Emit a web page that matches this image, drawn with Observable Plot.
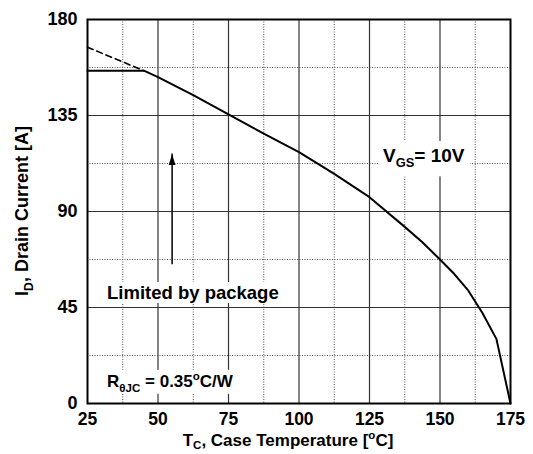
<!DOCTYPE html>
<html><head><meta charset="utf-8">
<script src="https://cdn.jsdelivr.net/npm/d3@7"></script>
<script src="https://cdn.jsdelivr.net/npm/@observablehq/plot@0.6"></script>
<style>
body{margin:0;background:#fff;}
svg{font-family:"Liberation Sans",Arial,sans-serif;}
</style>
</head><body><div id="chart"></div>
<script>
// Tick values
const xTicks = [25, 50, 75, 100, 125, 150, 175];
const yTicks = [0, 45, 90, 135, 180];
const xMinor = [37.5, 62.5, 87.5, 112.5, 137.5, 162.5];
const yMinor = [22.5, 67.5, 112.5, 157.5];

// Drain current limit curve (solid) – package limited then thermally limited
const tempSolid    = [25, 45, 50, 62.5, 75, 87.5, 100, 112.5, 125, 137.5, 143.75, 150, 155, 160, 165, 170, 175];
const currentSolid = [156, 156, 153, 144.5, 135.5, 126.5, 117.8, 107.6, 96.7, 82.8, 75.6, 67.5, 60.8, 53, 42.5, 30.3, 0];
// Silicon limit extension (dashed)
const tempDashed    = [25, 45];
const currentDashed = [167, 156];
// Arrow pointing to the package limit
const arrowTemp = [55];
const arrowFromCurrent = [65];
const arrowToCurrent = [117];

const solid = tempSolid.map((t, i) => ({t, i: currentSolid[i]}));
const dashed = tempDashed.map((t, i) => ({t, i: currentDashed[i]}));
const arrow = arrowTemp.map((t, k) => ({t, y1: arrowFromCurrent[k], y2: arrowToCurrent[k]}));

const arrowHead = {draw(ctx) { ctx.moveTo(0, 0); ctx.lineTo(-3.4, 11); ctx.lineTo(3.4, 11); ctx.closePath(); }};

const chart = Plot.plot({
  width: 533, height: 454,
  marginLeft: 87, marginRight: 23, marginTop: 19, marginBottom: 51,
  style: {fontFamily: "'Liberation Sans', Arial, sans-serif", background: "#fff", color: "#000"},
  x: {domain: [25, 175]},
  y: {domain: [0, 180]},
  marks: [
    Plot.ruleX(xMinor, {stroke: "#555", strokeWidth: 1, strokeDasharray: "1,1.5"}),
    Plot.ruleY(yMinor, {stroke: "#555", strokeWidth: 1, strokeDasharray: "1,1.5"}),
    Plot.ruleX(xTicks.slice(1, -1), {stroke: "#333", strokeWidth: 1.2}),
    Plot.ruleY(yTicks.slice(1, -1), {stroke: "#333", strokeWidth: 1.2}),
    Plot.line(dashed, {x: "t", y: "i", stroke: "#000", strokeWidth: 1.6, strokeDasharray: "6,4"}),
    Plot.line(solid, {x: "t", y: "i", stroke: "#000", strokeWidth: 2}),
    Plot.ruleX(arrow, {x: "t", y1: "y1", y2: "y2", stroke: "#000", strokeWidth: 1.5}),
    Plot.dot(arrow, {x: "t", y: "y2", symbol: arrowHead, fill: "#000", stroke: "none"}),
    Plot.frame({stroke: "#000", strokeWidth: 2}),
    Plot.axisX(xTicks, {tickSize: 0, tickPadding: 9, fontSize: 17.5, fontWeight: "bold", label: null}),
    Plot.axisY(yTicks, {tickSize: 0, tickPadding: 10, fontSize: 18, fontWeight: "bold", label: null})
  ]
});
document.getElementById("chart").appendChild(chart);

const svg = d3.select(chart);
const layer = svg.append("g");

function richText(x, y, parts, size, anchor, rotate, box, subShift = 0.28) {
  const g = layer.append("g");
  const t = g.append("text")
    .attr("x", x).attr("y", y)
    .attr("font-size", size).attr("font-weight", "bold")
    .attr("text-anchor", anchor).attr("fill", "#000");
  if (rotate) t.attr("transform", `rotate(-90 ${x} ${y})`);
  let cur = 0;
  for (const p of parts) {
    const target = p.sub ? size * subShift : p.sup ? -size * 0.42 : 0;
    const ts = t.append("tspan").text(p.t).attr("dy", target - cur);
    if (p.sub || p.sup) ts.attr("font-size", size * 0.68);
    cur = target;
  }
  if (box) {
    const b = t.node().getBBox();
    g.insert("rect", "text")
      .attr("x", b.x - box[0]).attr("y", b.y - box[1])
      .attr("width", b.width + 2 * box[0]).attr("height", b.height + box[1] + box[2])
      .attr("fill", "#fff");
  }
  return t;
}

// Axis titles
richText(288, 446, [{t: "T"}, {t: "C", sub: true}, {t: ", Case Temperature ["}, {t: "o", sup: true}, {t: "C]"}], 17, "middle", false, null, 0.2);
richText(28, 211, [{t: "I"}, {t: "D", sub: true}, {t: ", Drain Current [A]"}], 18, "middle", true);

// Annotations
richText(383, 162, [{t: "V"}, {t: "GS", sub: true}, {t: "= 10V"}], 19, "start", false, [5, 4, 6]);
richText(107, 299, [{t: "Limited by package"}], 18.5, "start", false, [2, 0, 0]);
richText(107, 387, [{t: "R"}, {t: "θJC", sub: true}, {t: " = 0.35"}, {t: "o", sup: true}, {t: "C/W"}], 17, "start", false, [2, 0, 0]);
</script>
</body></html>
